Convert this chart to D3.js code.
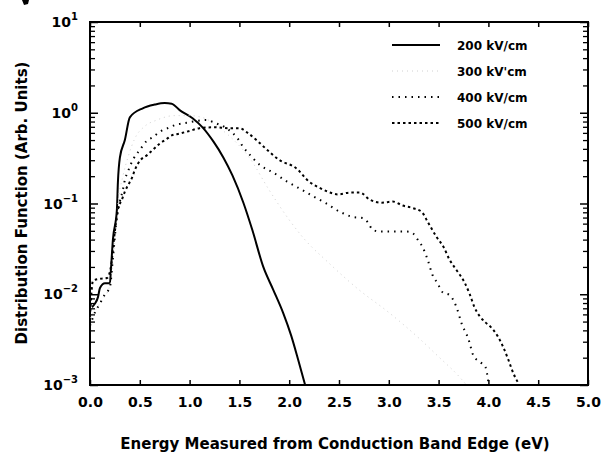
<!DOCTYPE html>
<html><head><meta charset="utf-8">
<script src="https://cdn.jsdelivr.net/npm/d3@7"></script>
<style>
html,body{margin:0;padding:0;background:#fff;}
text{font-family:"DejaVu Sans",Arial,Helvetica,sans-serif;font-weight:bold;fill:#000;}
</style></head>
<body><svg id="chart" width="609" height="458"></svg>
<script>
// ---- data ----
const xTicks = [0,0.5,1,1.5,2,2.5,3,3.5,4,4.5,5];
const xTickLabels = ["0.0","0.5","1.0","1.5","2.0","2.5","3.0","3.5","4.0","4.5","5.0"];
const yTicks = [1e1,1e0,1e-1,1e-2,1e-3];
const yTickExp = ["1","0","-1","-2","-3"];
const seriesNames = ["200 kV/cm","300 kV'cm","400 kV/cm","500 kV/cm"];

const e200 = [0.02,0.05,0.08,0.10,0.15,0.20,0.21,0.23,0.27,0.28,0.30,0.35,0.40,0.53,0.65,0.75,0.82,0.90,1.03,1.13,1.24,1.34,1.43,1.54,1.63,1.74,1.84,1.94,2.02,2.09,2.16];
const f200 = [0.0072,0.0079,0.0093,0.0117,0.0132,0.0132,0.0186,0.040,0.085,0.17,0.32,0.50,0.89,1.12,1.23,1.28,1.26,1.07,0.87,0.69,0.48,0.32,0.204,0.102,0.051,0.020,0.0112,0.0062,0.0035,0.0019,0.001];

const e300 = [0.0,0.10,0.20,0.25,0.28,0.33,0.38,0.45,0.55,0.67,0.85,1.0,1.15,1.3,1.46,1.6,1.8,2.0,2.14,2.4,2.7,3.0,3.3,3.51,3.7,3.78];
const f300 = [0.0055,0.008,0.0126,0.04,0.1,0.2,0.32,0.52,0.71,0.83,0.93,0.93,0.87,0.68,0.48,0.32,0.14,0.066,0.042,0.022,0.0112,0.0063,0.0033,0.002,0.00126,0.001];

const e400 = [0.0,0.05,0.10,0.15,0.20,0.23,0.27,0.30,0.33,0.35,0.38,0.43,0.50,0.57,0.63,0.70,0.78,0.87,0.97,1.07,1.17,1.25,1.37,1.48,1.54,1.61,1.71,1.84,1.98,2.11,2.24,2.36,2.51,2.64,2.74,2.79,2.84,2.93,3.08,3.18,3.24,3.29,3.34,3.39,3.44,3.49,3.54,3.61,3.68,3.73,3.80,3.85,3.92,3.97,4.00];
const f400 = [0.0045,0.0063,0.0079,0.01,0.012,0.025,0.071,0.105,0.141,0.182,0.224,0.302,0.389,0.49,0.537,0.617,0.676,0.741,0.776,0.813,0.832,0.776,0.676,0.525,0.417,0.339,0.263,0.219,0.174,0.145,0.120,0.102,0.081,0.071,0.069,0.062,0.051,0.049,0.049,0.049,0.047,0.040,0.033,0.024,0.0162,0.0132,0.0105,0.0098,0.0072,0.0048,0.0032,0.0021,0.00178,0.00158,0.00107];

const e500 = [0.0,0.03,0.10,0.17,0.21,0.24,0.28,0.32,0.35,0.38,0.42,0.45,0.50,0.57,0.63,0.70,0.77,0.82,0.90,1.0,1.1,1.25,1.4,1.5,1.58,1.68,1.78,1.9,2.07,2.2,2.31,2.41,2.49,2.61,2.71,2.81,2.93,3.04,3.14,3.24,3.33,3.39,3.48,3.55,3.61,3.69,3.76,3.81,3.86,3.92,3.97,4.02,4.09,4.15,4.2,4.25,4.3];
const f500 = [0.0056,0.0141,0.0148,0.0151,0.02,0.04,0.085,0.11,0.135,0.158,0.19,0.234,0.295,0.339,0.389,0.457,0.513,0.562,0.589,0.631,0.676,0.692,0.676,0.676,0.603,0.490,0.389,0.302,0.245,0.174,0.148,0.132,0.126,0.132,0.132,0.110,0.102,0.105,0.095,0.089,0.081,0.063,0.0427,0.0331,0.024,0.0178,0.0135,0.0102,0.0072,0.0056,0.0049,0.0044,0.0035,0.0026,0.0019,0.00135,0.00105];

// ---- drawing ----
const svg = d3.select("#chart");
const x = d3.scaleLinear().domain([0,5]).range([90,588]);
const y = d3.scaleLog().domain([1e-3,1e1]).range([385,22]);

const yMinor = [];
for (let p=-3;p<1;p++) for (let m=2;m<=9;m++) yMinor.push(m*Math.pow(10,p));

const axG = svg.append("g");
axG.append("g").attr("transform","translate(0,385)")
  .call(d3.axisBottom(x).tickValues(xTicks).tickSize(-5).tickPadding(12).tickFormat((d,i)=>xTickLabels[i]))
  .call(g=>g.select(".domain").remove())
  .call(g=>g.selectAll("line").attr("stroke","#000").attr("stroke-width",1.5))
  .call(g=>g.selectAll("text").attr("font-size",14).attr("font-family",null).attr("fill","#000"));
axG.append("g").attr("transform","translate(0,22)")
  .call(d3.axisTop(x).tickValues(xTicks).tickSize(-5).tickFormat(""))
  .call(g=>g.select(".domain").remove())
  .call(g=>g.selectAll("line").attr("stroke","#000").attr("stroke-width",1.5));
axG.append("g").attr("transform","translate(90,0)")
  .call(d3.axisLeft(y).tickValues(yTicks).tickSize(-8).tickFormat(""))
  .call(g=>g.select(".domain").remove())
  .call(g=>g.selectAll("line").attr("stroke","#000").attr("stroke-width",1.5));
axG.append("g").attr("transform","translate(90,0)")
  .call(d3.axisLeft(y).tickValues(yMinor).tickSize(-5).tickFormat(""))
  .call(g=>g.select(".domain").remove())
  .call(g=>g.selectAll("line").attr("stroke","#000").attr("stroke-width",1.3));
axG.append("g").attr("transform","translate(588,0)")
  .call(d3.axisRight(y).tickValues(yTicks).tickSize(-8).tickFormat(""))
  .call(g=>g.select(".domain").remove())
  .call(g=>g.selectAll("line").attr("stroke","#000").attr("stroke-width",1.5));
axG.append("g").attr("transform","translate(588,0)")
  .call(d3.axisRight(y).tickValues(yMinor).tickSize(-5).tickFormat(""))
  .call(g=>g.select(".domain").remove())
  .call(g=>g.selectAll("line").attr("stroke","#000").attr("stroke-width",1.3));

svg.append("rect").attr("x",x(0)).attr("y",y(10)).attr("width",x(5)-x(0)).attr("height",y(1e-3)-y(10))
  .attr("fill","none").attr("stroke","#000").attr("stroke-width",2);

const yl = svg.append("g");
yTicks.forEach((t,i)=>{
  const tx = yl.append("text").attr("x",78).attr("y",y(t)+5).attr("text-anchor","end").attr("font-size",14);
  tx.append("tspan").text("10");
  tx.append("tspan").attr("font-size",10).attr("dy",-7).text(yTickExp[i].replace("-","\u2212"));
});

svg.append("text").attr("x",335).attr("y",449).attr("text-anchor","middle").attr("font-size",15)
  .text("Energy Measured from Conduction Band Edge (eV)");
svg.append("text").attr("transform","translate(27,203) rotate(-90)").attr("text-anchor","middle").attr("font-size",15)
  .text("Distribution Function (Arb. Units)");

const line = d3.line().x(d=>x(d[0])).y(d=>y(d[1])).curve(d3.curveMonotoneX);
const styles = [
  {stroke:"#000", w:2, dash:null},
  {stroke:"#d0d0d0", w:1, dash:"1,4"},
  {stroke:"#000", w:2, dash:"1.5,5"},
  {stroke:"#000", w:2, dash:"2.5,3"}
];
const series = [d3.zip(e200,f200), d3.zip(e300,f300), d3.zip(e400,f400), d3.zip(e500,f500)];
svg.append("clipPath").attr("id","clp").append("rect")
  .attr("x",x(0)).attr("y",y(10)).attr("width",x(5)-x(0)).attr("height",y(1e-3)-y(10));
series.forEach((s,i)=>{
  svg.append("path").attr("d",line(s)).attr("fill","none").attr("stroke",styles[i].stroke)
    .attr("stroke-width",styles[i].w).attr("stroke-dasharray",styles[i].dash).attr("clip-path","url(#clp)");
});

const legRows = [45,71,97,123];
seriesNames.forEach((n,i)=>{
  svg.append("line").attr("x1",392).attr("x2",440).attr("y1",legRows[i]).attr("y2",legRows[i])
    .attr("stroke",styles[i].stroke).attr("stroke-width",styles[i].w).attr("stroke-dasharray",styles[i].dash);
  svg.append("text").attr("x",457).attr("y",legRows[i]+4.5).attr("font-size",12).text(n);
});

svg.append("path").attr("d","M22,0 L29,0 L28,4 L24,5 Z").attr("fill","#000");
</script></body></html>
